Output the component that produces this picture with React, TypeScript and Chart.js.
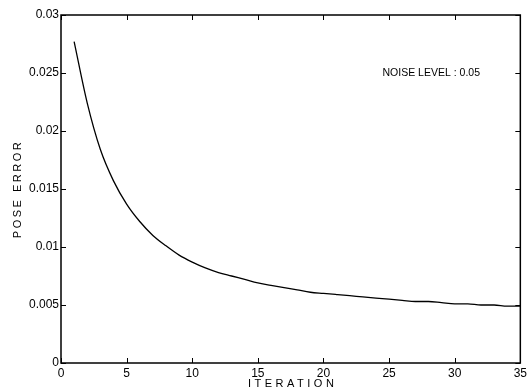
import React, { useEffect, useRef } from "react";
import { Chart, registerables } from "chart.js";

Chart.register(...registerables);

const iterations = [1, 2, 3, 4, 5, 6, 7, 8, 9, 10, 11, 12, 13, 14, 15, 16, 17, 18, 19, 20, 21, 22, 23, 24, 25, 26, 27, 28, 29, 30, 31, 32, 33, 34, 35];
const poseError = [
  0.0277, 0.0224, 0.0184, 0.0157, 0.0137, 0.0122, 0.0110, 0.0101, 0.0093, 0.0087,
  0.0082, 0.0078, 0.0075, 0.0072, 0.0069, 0.0067, 0.0065, 0.0063, 0.0061, 0.0060,
  0.0059, 0.0058, 0.0057, 0.0056, 0.0055, 0.0054, 0.0053, 0.0053, 0.0052, 0.0051,
  0.0051, 0.0050, 0.0050, 0.0049, 0.0049,
];
const xTickValues = [0, 5, 10, 15, 20, 25, 30, 35];
const xTickLabels = ["0", "5", "10", "15", "20", "25", "30", "35"];
const yTickValues = [0, 0.005, 0.01, 0.015, 0.02, 0.025, 0.03];
const yTickLabels = ["0", "0.005", "0.01", "0.015", "0.02", "0.025", "0.03"];
const xTitle = "ITERATION";
const yTitle = "POSE ERROR";
const noteText = "NOISE LEVEL : 0.05";
const notePosition = [24.5, 0.025];

const FONT = "'Liberation Sans', Arial, Helvetica, sans-serif";

const framePlugin = {
  id: "frame",
  afterDraw(chart: any) {
    const { ctx, chartArea } = chart;
    const xs = chart.scales.x;
    const ys = chart.scales.y;
    const { left, right, top, bottom } = chartArea;
    ctx.save();
    ctx.strokeStyle = "#000";
    ctx.lineWidth = 1.5;
    ctx.strokeRect(left, top, right - left, bottom - top);
    ctx.lineWidth = 1;
    const tl = 5;
    ctx.beginPath();
    xTickValues.forEach((v) => {
      const px = Math.round(xs.getPixelForValue(v)) + 0.5;
      ctx.moveTo(px, bottom);
      ctx.lineTo(px, bottom - tl);
      ctx.moveTo(px, top);
      ctx.lineTo(px, top + tl);
    });
    yTickValues.forEach((v) => {
      const py = Math.round(ys.getPixelForValue(v)) + 0.5;
      ctx.moveTo(left, py);
      ctx.lineTo(left + tl, py);
      ctx.moveTo(right, py);
      ctx.lineTo(right - tl, py);
    });
    ctx.stroke();

    ctx.fillStyle = "#000";
    ctx.font = `10.5px ${FONT}`;
    ctx.textAlign = "left";
    ctx.textBaseline = "middle";
    ctx.fillText(noteText, xs.getPixelForValue(notePosition[0]), ys.getPixelForValue(notePosition[1]));

    (ctx as any).letterSpacing = "3.5px";
    ctx.font = `11px ${FONT}`;
    ctx.textAlign = "center";
    ctx.textBaseline = "middle";
    ctx.fillText(xTitle, (left + right) / 2 + 2, 384);

    (ctx as any).letterSpacing = "2.5px";
    ctx.translate(18, 190);
    ctx.rotate(-Math.PI / 2);
    ctx.fillText(yTitle, 1, 0);
    (ctx as any).letterSpacing = "0px";
    ctx.restore();
  },
};

export default function App() {
  const ref = useRef<HTMLCanvasElement | null>(null);
  useEffect(() => {
    if (!ref.current) return;
    const chart = new Chart(ref.current, {
      type: "line",
      data: {
        datasets: [
          {
            data: iterations.map((x, i) => ({ x, y: poseError[i] })),
            borderColor: "#000",
            borderWidth: 1.3,
            pointRadius: 0,
            cubicInterpolationMode: "monotone",
            fill: false,
          },
        ],
      },
      options: {
        responsive: false,
        animation: false,
        devicePixelRatio: 1,
        layout: { padding: { top: 15, right: 8, left: 0, bottom: 0 } },
        plugins: { legend: { display: false }, tooltip: { enabled: false } },
        scales: {
          x: {
            type: "linear",
            min: 0,
            max: 35,
            grid: { display: false, drawTicks: false },
            border: { display: false },
            afterBuildTicks: (s: any) => {
              s.ticks = xTickValues.map((v) => ({ value: v }));
            },
            afterFit: (s: any) => {
              s.height = 28;
            },
            ticks: {
              color: "#000",
              padding: 3,
              maxRotation: 0,
              autoSkip: false,
              font: { family: FONT, size: 12 },
              callback: (v: any) => xTickLabels[xTickValues.indexOf(Number(v))] ?? "",
            },
          },
          y: {
            type: "linear",
            min: 0,
            max: 0.03,
            grid: { display: false, drawTicks: false },
            border: { display: false },
            afterBuildTicks: (s: any) => {
              s.ticks = yTickValues.map((v) => ({ value: v }));
            },
            afterFit: (s: any) => {
              s.width = 61;
            },
            ticks: {
              color: "#000",
              padding: 2,
              autoSkip: false,
              font: { family: FONT, size: 12 },
              callback: (v: any) => {
                const i = yTickValues.findIndex((t) => Math.abs(t - Number(v)) < 1e-9);
                return i >= 0 ? yTickLabels[i] : "";
              },
            },
          },
        },
      },
      plugins: [framePlugin],
    });
    return () => chart.destroy();
  }, []);
  return (
    <div style={{ position: "absolute", left: 0, top: 0, width: 530, height: 391, background: "#fff" }}>
      <canvas ref={ref} width={530} height={391} />
    </div>
  );
}
